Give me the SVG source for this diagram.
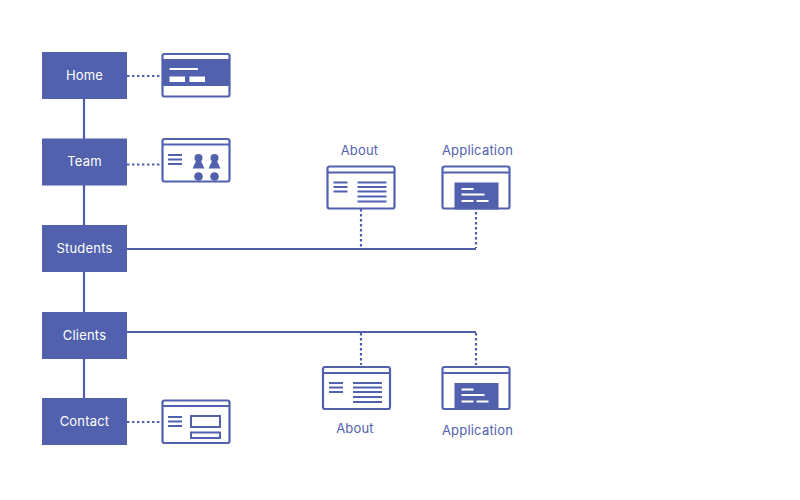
<svg xmlns="http://www.w3.org/2000/svg" width="800" height="500" viewBox="0 0 800 500">
<style>
text{font-family:"Inter","Liberation Sans",sans-serif;font-size:13px;text-anchor:middle;letter-spacing:.2px}
.box{fill:#5161ae}
.nt{fill:#fff}
.lb{fill:#5161ae}
.ln{stroke:#4f5eab;stroke-width:2.200;fill:none}
.dot{stroke:#4f5eab;stroke-width:2.200;fill:none;stroke-dasharray:2.400 2.600}
.fr{fill:#fff;stroke:#5161ae;stroke-width:2.200}
.hd{stroke:#5161ae;stroke-width:2.200;fill:none}
.th{stroke:#5161ae;stroke-width:2;fill:none}
.wl{stroke:#fff;stroke-width:2;fill:none}
.fl{fill:#5161ae}
</style>
<rect width="800" height="500" fill="#fff"/>
<defs>
<g id="about">
<rect class="fr" x="1" y="1" width="67" height="42" rx="2"/>
<path class="hd" d="M1 7H68"/>
<path class="th" d="M7 17H21M7 21.500H21M7 26H21M31 17H60M31 21.500H60M31 26H60M31 31H60M31 36H60"/>
</g>
<g id="app">
<rect class="fr" x="1" y="1" width="67" height="42" rx="2"/>
<path class="hd" d="M1 7H68"/>
<rect class="fl" x="13" y="17" width="44" height="27"/>
<path class="wl" d="M20 23.500H32M20 29H43M20 35.500H32M35 35.500H47"/>
</g>
</defs>
<g id="connectors">
<path class="ln" d="M84 99V398M127 249H476M127 332H476"/>
<path class="dot" d="M127 76H162M127 164.500H162M127 422H162M361 209V247M476 212V248M361 333V365M476 333V365"/>
</g>
<g id="home"><rect class="box" x="42" y="52" width="85" height="47"/><text class="nt" x="84.500" y="79.500">Home</text></g>
<g id="team"><rect class="box" x="42" y="138.500" width="85" height="47"/><text class="nt" x="84.500" y="166">Team</text></g>
<g id="students"><rect class="box" x="42" y="225" width="85" height="47"/><text class="nt" x="84.500" y="252.500">Students</text></g>
<g id="clients"><rect class="box" x="42" y="312" width="85" height="47"/><text class="nt" x="84.500" y="339.500">Clients</text></g>
<g id="contact"><rect class="box" x="42" y="398" width="85" height="47"/><text class="nt" x="84.500" y="426">Contact</text></g>
<g id="home-thumb">
<rect class="fr" x="162.500" y="54" width="67" height="42.500" rx="2"/>
<rect class="fl" x="162.500" y="59" width="67" height="27"/>
<path class="wl" d="M169.500 69H198"/>
<rect x="169.500" y="76.500" width="15.500" height="5.500" fill="#fff"/>
<rect x="189.500" y="76.500" width="15.500" height="5.500" fill="#fff"/>
</g>
<g id="team-thumb">
<rect class="fr" x="162.500" y="139" width="67" height="42.500" rx="2"/>
<path class="hd" d="M162.500 144.500H229.500"/>
<path class="th" d="M168 155H182M168 159.500H182M168 164H182"/>
<circle class="fl" cx="198.500" cy="158" r="4"/><path class="fl" d="M196.500 160H200.500L204.500 168.500H192.500Z"/>
<circle class="fl" cx="214.500" cy="158" r="4"/><path class="fl" d="M212.500 160H216.500L220.500 168.500H208.500Z"/>
<circle class="fl" cx="198.500" cy="176.500" r="4.300"/><circle class="fl" cx="214.500" cy="176.500" r="4.300"/>
</g>
<g id="contact-thumb">
<rect class="fr" x="162.500" y="400.500" width="67" height="42.500" rx="2"/>
<path class="hd" d="M162.500 406H229.500"/>
<path class="th" d="M168 417H182M168 421.500H182M168 426H182"/>
<rect class="th" x="191" y="416" width="29" height="11"/>
<rect class="th" x="191" y="432.500" width="29" height="5.500"/>
</g>
<g id="about-top"><use href="#about" x="326.500" y="165.500"/><text class="lb" x="359.500" y="155">About</text></g>
<g id="application-top"><use href="#app" x="441.500" y="165.500"/><text class="lb" x="477.500" y="155">Application</text></g>
<g id="about-bottom"><use href="#about" x="322" y="366"/><text class="lb" x="355" y="433">About</text></g>
<g id="application-bottom"><use href="#app" x="441.500" y="366"/><text class="lb" x="477.500" y="435">Application</text></g>
</svg>
